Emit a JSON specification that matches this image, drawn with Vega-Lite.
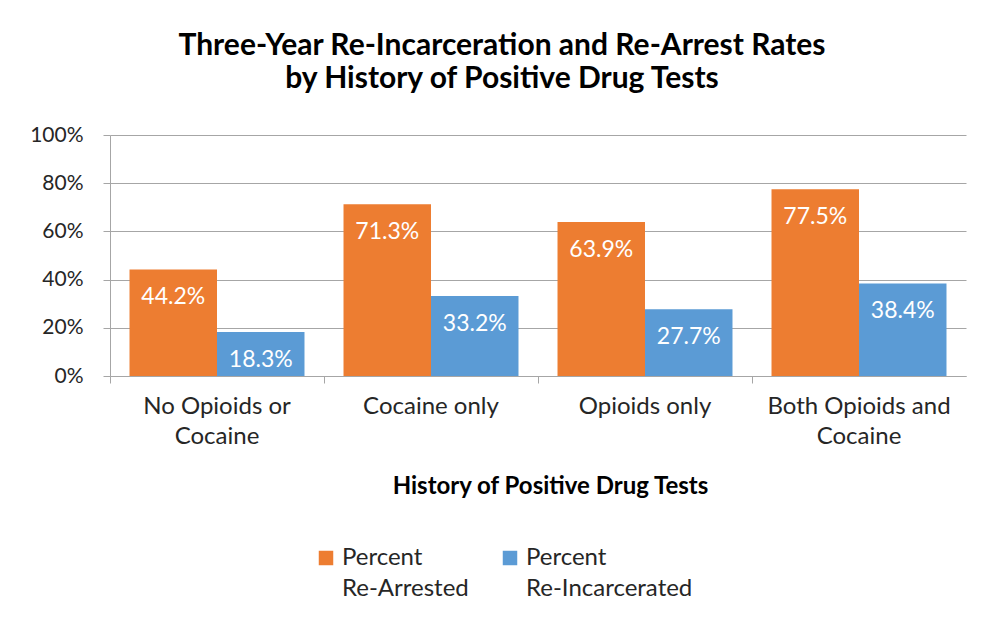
{
  "$schema": "https://vega.github.io/schema/vega-lite/v6.json",
  "width": 856,
  "height": 241,
  "autosize": {"type": "none"},
  "padding": {"left": 110, "top": 135, "right": 19, "bottom": 250},
  "background": "white",
  "config": {"view": {"stroke": null}, "font": "Lato"},
  "title": {
    "text": ["Three-Year Re-Incarceration and Re-Arrest Rates", "by History of Positive Drug Tests"],
    "fontSize": 30,
    "fontWeight": "bold",
    "color": "#000000",
    "anchor": "middle",
    "frame": "group",
    "dx": -36,
    "offset": 30,
    "lineHeight": 33
  },
  "data": {
    "values": [
      {"group": "No Opioids or|Cocaine", "measure": "Percent|Re-Arrested", "value": 0.442},
      {"group": "No Opioids or|Cocaine", "measure": "Percent|Re-Incarcerated", "value": 0.183},
      {"group": "Cocaine only", "measure": "Percent|Re-Arrested", "value": 0.713},
      {"group": "Cocaine only", "measure": "Percent|Re-Incarcerated", "value": 0.332},
      {"group": "Opioids only", "measure": "Percent|Re-Arrested", "value": 0.639},
      {"group": "Opioids only", "measure": "Percent|Re-Incarcerated", "value": 0.277},
      {"group": "Both Opioids and|Cocaine", "measure": "Percent|Re-Arrested", "value": 0.775},
      {"group": "Both Opioids and|Cocaine", "measure": "Percent|Re-Incarcerated", "value": 0.384}
    ]
  },
  "encoding": {
    "x": {
      "field": "group",
      "type": "nominal",
      "sort": ["No Opioids or|Cocaine", "Cocaine only", "Opioids only", "Both Opioids and|Cocaine"],
      "scale": {"paddingInner": 0, "paddingOuter": 0},
      "axis": {
        "title": "History of Positive Drug Tests",
        "titleFontSize": 24,
        "titleFontWeight": "bold",
        "titleColor": "#000000",
        "titlePadding": 26,
        "titleX": 440,
        "labelExpr": "split(datum.label, '|')",
        "labelAngle": 0,
        "labelFontSize": 24,
        "labelColor": "#262626",
        "labelPadding": 11,
        "labelLineHeight": 30,
        "labelLimit": 0,
        "bandPosition": 0,
        "domainColor": "#A6A6A6",
        "tickColor": "#A6A6A6",
        "tickSize": 7,
        "grid": false
      }
    },
    "xOffset": {
      "field": "measure",
      "sort": ["Percent|Re-Arrested", "Percent|Re-Incarcerated"],
      "scale": {"paddingInner": 0, "paddingOuter": 0.223}
    },
    "y": {
      "field": "value",
      "type": "quantitative",
      "scale": {"domain": [0, 1]},
      "axis": {
        "title": null,
        "values": [0, 0.2, 0.4, 0.6, 0.8, 1],
        "format": ".0%",
        "labelFontSize": 21,
        "labelColor": "#262626",
        "labelPadding": 20,
        "domainColor": "#A6A6A6",
        "tickColor": "#A6A6A6",
        "tickSize": 7,
        "gridColor": "#A6A6A6",
        "grid": true
      }
    }
  },
  "layer": [
    {
      "mark": {"type": "bar"},
      "encoding": {
        "color": {
          "field": "measure",
          "type": "nominal",
          "scale": {"domain": ["Percent|Re-Arrested", "Percent|Re-Incarcerated"], "range": ["#ED7D31", "#5B9BD5"]},
          "legend": {
            "title": null,
            "orient": "none",
            "legendX": 204,
            "legendY": 411,
            "direction": "horizontal",
            "symbolType": "square",
            "symbolSize": 210,
            "symbolStrokeWidth": 0,
            "labelExpr": "split(datum.label, '|')",
            "labelFontSize": 24,
            "labelColor": "#262626",
            "labelBaseline": "middle",
            "labelOffset": 4,
            "labelLimit": 0,
            "columnPadding": 29,
            "encode": {"labels": {"update": {"lineHeight": {"value": 31}}}}
          }
        }
      }
    },
    {
      "mark": {"type": "text", "color": "white", "fontSize": 23, "baseline": "middle", "dy": 28},
      "encoding": {
        "text": {"field": "value", "type": "quantitative", "format": ".1%"}
      }
    }
  ]
}
